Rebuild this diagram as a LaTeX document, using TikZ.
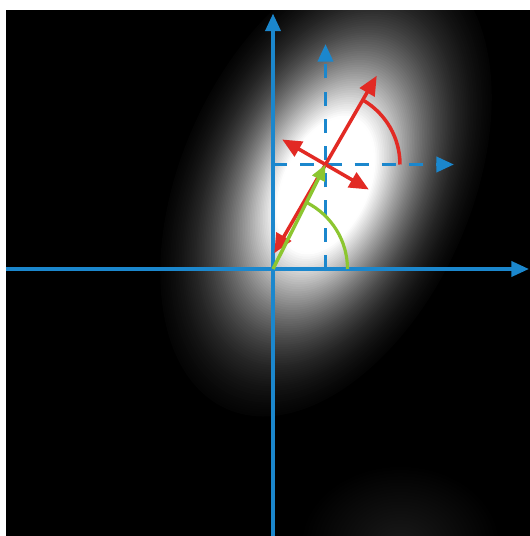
\documentclass[tikz,border=0pt]{standalone}
\usepackage{tikz}
\usetikzlibrary{arrows.meta, calc}
\definecolor{axisblue}{RGB}{27,135,205}
\definecolor{vecred}{RGB}{226,42,36}
\definecolor{vecgreen}{RGB}{140,198,48}

\begin{document}
\begin{tikzpicture}[
    axis/.style={axisblue, line width=2.1pt, -{Triangle[length=10pt,width=8.5pt]}},
    dashaxis/.style={axis, dash pattern=on 8pt off 7.5pt},
    redvec/.style={vecred, line width=2pt, {Triangle[length=11pt,width=9.5pt]}-{Triangle[length=11pt,width=9.5pt]}},
    greenvec/.style={vecgreen, line width=2pt, -{Triangle[length=9pt,width=7.5pt]}},
    redarc/.style={vecred, line width=2pt},
    greenarc/.style={vecgreen, line width=1.8pt}]
    \def\r{1.49}
    \useasboundingbox (-5.46,-5.34) rectangle (5.12,5.38);
    \fill[black] (-5.34,-5.7) rectangle (5.6,5.18);
    % 光斑：一圈圈椭圆叠出高斯衰减
    \coordinate (G) at (1.06,1.68);
    \begin{scope}
        \clip (-5.34,-5.34) rectangle (5.12,5.18);
        \foreach \i in {100,...,1} {
            \pgfmathsetmacro\t{\i/100}
            \pgfmathsetmacro\b{max(0,min(100,100*(1.38*exp(-3.2*\t*\t)-0.04)))}
            \fill[white!\b!black, rotate around={66:(G)}] (G) ellipse ({4.9*\t} and {2.9*\t});
        }
        \shade[inner color=white!10!black, outer color=black] (2.54,-5.52) ellipse (2.0 and 1.6);
    \end{scope}
    % 白边
    \fill[white] (-5.8,5.18) rectangle (5.6,5.8);
    \fill[white] (-5.8,-5.7) rectangle (-5.34,5.8);
    % 坐标轴
    \coordinate (O) at (0,0);
    \coordinate (C) at (1.05,2.09);
    \coordinate (xl) at (-5.34,0); \coordinate (xr) at (5.12,0);
    \coordinate (yb) at (0,-5.34); \coordinate (yt) at (0,5.11);
    \draw[axis] (xl) -- (xr);
    \draw[axis] (yb) -- (yt);
    % 局部坐标轴
    \coordinate (Cx) at (C |- O); \coordinate (Cy) at (O |- C);
    \coordinate (Ctop) at (1.05,4.5); \coordinate (Cright) at (3.62,2.09);
    \draw[dashaxis] (Cx) -- (Ctop);
    \draw[dashaxis] (Cy) -- (Cright);
    % 角度
    \draw[redarc] ($(C)+(\r,0)$) arc[start angle=0, end angle=60, radius=\r];
    \draw[greenarc] (\r,0) arc[start angle=0, end angle=63.3, radius=\r];
    % 主轴
    \coordinate (Ma) at ($(C)+(60:2.05)$); \coordinate (Mb) at ($(C)+(240:2.05)$);
    \coordinate (ma) at ($(C)+(150:1.0)$); \coordinate (mb) at ($(C)+(-30:1.0)$);
    \draw[redvec] (Mb) -- (Ma);
    \draw[redvec] (ma) -- (mb);
    \draw[greenvec] (O) -- (C);
\end{tikzpicture}
\end{document}
